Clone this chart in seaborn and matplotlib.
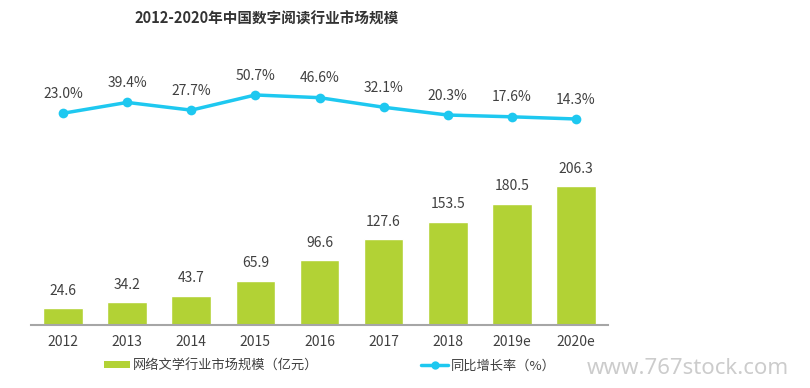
import seaborn as sns
import pandas as pd
import matplotlib.pyplot as plt
from matplotlib.patches import Patch
from matplotlib.lines import Line2D

years = ["2012", "2013", "2014", "2015", "2016", "2017", "2018", "2019e", "2020e"]
market_size = [24.6, 34.2, 43.7, 65.9, 96.6, 127.6, 153.5, 180.5, 206.3]
growth_rate = [23.0, 39.4, 27.7, 50.7, 46.6, 32.1, 20.3, 17.6, 14.3]

title = "2012-2020年中国数字阅读行业市场规模"
bar_label = "网络文学行业市场规模（亿元）"
line_label = "同比增长率（%）"

GREEN = "#b2d235"
BLUE = "#1ec8f0"
TEXT = "#404040"

sns.set_theme(style="white")
plt.rcParams["font.family"] = ["Noto Sans CJK SC", "DejaVu Sans"]

df = pd.DataFrame({"year": years, "size": market_size, "rate": growth_rate})

W, H = 810, 388
fig = plt.figure(figsize=(W / 100, H / 100), dpi=100)


def px_axes(l, t, r, b):
    return fig.add_axes([l / W, 1 - b / H, (r - l) / W, (b - t) / H])


# bars
ax_bar = px_axes(31, 150, 608, 325)
sns.barplot(data=df, x="year", y="size", color=GREEN, saturation=1,
            width=0.62, ax=ax_bar)
ax_bar.set_xlim(-0.5, len(years) - 0.5)
ax_bar.set_ylim(0, 260)
for i, v in enumerate(market_size):
    ax_bar.annotate(f"{v:.1f}", (i, v), xytext=(0, 12.5), textcoords="offset points",
                    ha="center", va="center", fontsize=10, color=TEXT)
ax_bar.set_xlabel("")
ax_bar.set_ylabel("")
ax_bar.set_yticks([])
ax_bar.tick_params(axis="x", length=0, pad=7, labelsize=10, labelcolor=TEXT)
for s in ["top", "right", "left"]:
    ax_bar.spines[s].set_visible(False)
ax_bar.spines["bottom"].set_color("#a6a6a6")
ax_bar.spines["bottom"].set_linewidth(1.5)

# growth line
ax_line = px_axes(31, 60, 608, 130)
sns.lineplot(data=df, x="year", y="rate", color=BLUE, linewidth=2.5,
             marker="o", markersize=7, markeredgewidth=0, sort=False, ax=ax_line)
ax_line.set_xlim(-0.5, len(years) - 0.5)
ax_line.set_ylim(-2.4, 103.7)
for i, v in enumerate(growth_rate):
    ax_line.annotate(f"{v:.1f}%", (i, v), xytext=(0, 14.0), textcoords="offset points",
                     ha="center", va="center", fontsize=10, color=TEXT)
ax_line.axis("off")

fig.text(267 / W, 1 - 19 / H, title, ha="center", va="center",
         fontsize=10.5, fontweight="bold", color="#333333")

handles = [Patch(facecolor=GREEN, edgecolor="none"),
           Line2D([], [], color=BLUE, lw=2.5, marker="o", markersize=6, markeredgewidth=0)]
fig.legend(handles, [bar_label, line_label], loc="center left",
           bbox_to_anchor=(92 / W, 1 - 366 / H), ncol=2, frameon=False,
           fontsize=9.5, labelcolor=TEXT, handlelength=2.0, handleheight=0.45,
           handletextpad=0.2, columnspacing=7.8)

fig.text(587 / W, 1 - 369 / H, "www.767stock.com", ha="left", va="center",
         fontsize=16, color="#cccccc", family="Noto Sans")

fig.savefig("out.png", dpi=100)
